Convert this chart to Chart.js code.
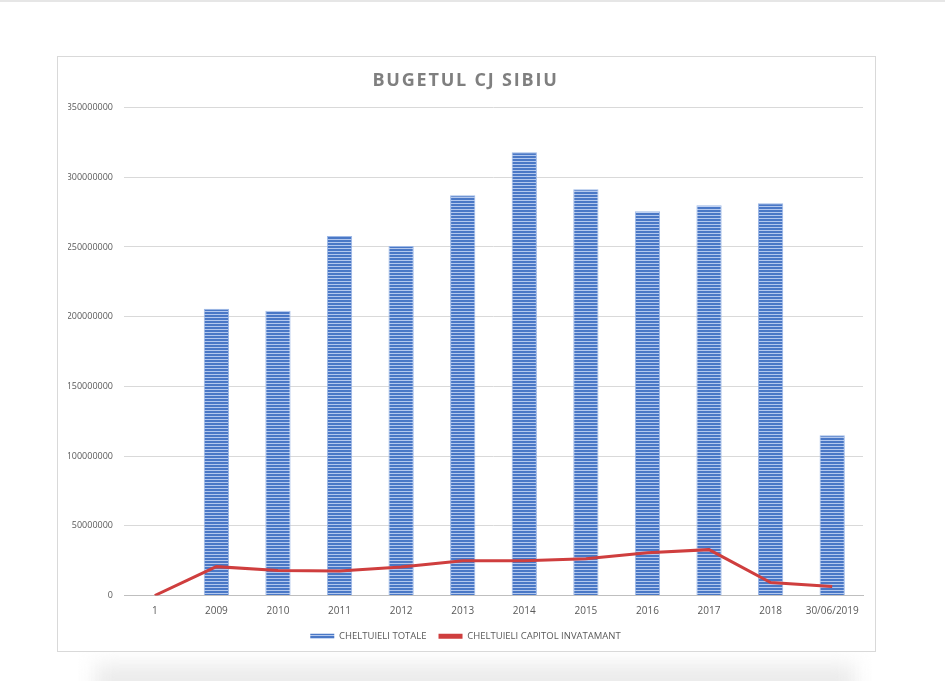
<!DOCTYPE html>
<html lang="ro">
<head>
    <meta charset="UTF-8">
    <title>Bugetul CJ Sibiu</title>
    <script src="https://cdn.jsdelivr.net/npm/chart.js"></script>
    <style>
        body { margin: 0; background: #fff; width: 945px; height: 681px; overflow: hidden; position: relative; }
        #topbar { position: absolute; left: 0; top: 0; width: 945px; height: 2px; background: #e6e6e6; }
        #shadow { position: absolute; left: 95px; top: 664px; width: 760px; height: 40px;
                  background: #ebebeb; filter: blur(10px); }
        #box { position: absolute; left: 57px; top: 56px; width: 817px; height: 594px;
               border: 1px solid #d9d9d9; background: #fff; }
    </style>
</head>
<body>
    <div id="topbar"></div>
    <div id="shadow"></div>
    <div id="box"><canvas id="chart"></canvas></div>

    <script>
        const categories = ['1', '2009', '2010', '2011', '2012', '2013', '2014', '2015', '2016', '2017', '2018', '30/06/2019'];
        const cheltuieliTotale = [0, 205700000, 204300000, 257900000, 250700000, 287100000, 317900000, 291400000, 275700000, 280000000, 281400000, 115000000];
        const cheltuieliInvatamant = [0, 20700000, 17900000, 17600000, 20400000, 25000000, 25000000, 26400000, 30700000, 32900000, 9300000, 6400000];

        // striped fill like the original bars
        function stripes() {
            const c = document.createElement('canvas');
            c.width = 4; c.height = 3;
            const g = c.getContext('2d');
            g.fillStyle = '#4a78c6';
            g.fillRect(0, 0, 4, 2);
            g.fillStyle = '#b3c8ee';
            g.fillRect(0, 2, 4, 1);
            return g.createPattern(c, 'repeat');
        }

        const ctx = document.getElementById('chart').getContext('2d');
        const barFill = stripes();

        const chart = new Chart(ctx, {
            data: {
                labels: categories,
                datasets: [
                    {
                        type: 'bar',
                        label: 'CHELTUIELI TOTALE',
                        data: cheltuieliTotale,
                        backgroundColor: barFill,
                        borderColor: '#9db8e6',
                        borderWidth: 1,
                        categoryPercentage: 0.82,
                        barPercentage: 0.5,
                        order: 2
                    },
                    {
                        type: 'line',
                        label: 'CHELTUIELI CAPITOL INVATAMANT',
                        data: cheltuieliInvatamant,
                        borderColor: '#cf3e3e',
                        backgroundColor: '#cf3e3e',
                        borderWidth: 3,
                        pointRadius: 0,
                        pointHoverRadius: 0,
                        tension: 0,
                        order: 1
                    }
                ]
            },
            options: {
                responsive: true,
                maintainAspectRatio: false,
                animation: false,
                layout: { autoPadding: false, padding: { left: 10, right: 12, top: 5, bottom: 0 } },
                plugins: {
                    title: {
                        display: true,
                        text: 'BUGETUL CJ SIBIU',
                        color: '#7f7f7f',
                        font: { family: 'Open Sans', size: 18, weight: 'bold' },
                        padding: { top: 8, bottom: 16 }
                    },
                    legend: {
                        position: 'bottom',
                        labels: {
                            boxWidth: 24,
                            boxHeight: 5,
                            padding: 12,
                            color: '#595959',
                            font: { family: 'Open Sans', size: 9.5 },
                            sort: (a, b) => a.datasetIndex - b.datasetIndex,
                            generateLabels: c => Chart.defaults.plugins.legend.labels.generateLabels(c)
                                .map(item => Object.assign(item, { lineWidth: 0 }))
                        }
                    },
                    tooltip: { enabled: false }
                },
                scales: {
                    x: {
                        grid: { display: false },
                        border: { color: '#bfbfbf', width: 1 },
                        ticks: { color: '#595959', font: { family: 'Open Sans', size: 10 }, padding: 2 }
                    },
                    y: {
                        min: 0,
                        max: 350000000,
                        grid: { color: '#d9d9d9', drawTicks: false },
                        border: { display: false },
                        afterFit: s => { s.width = 56; },
                        ticks: {
                            stepSize: 50000000,
                            color: '#595959',
                            padding: 11,
                            font: { family: 'Open Sans', size: 9 },
                            callback: v => String(v)
                        }
                    }
                }
            }
        });

        // spaced-out title letters, as in the original
        const drawTitle = chart.titleBlock.draw;
        chart.titleBlock.draw = function () {
            const c = this.ctx;
            c.save();
            c.letterSpacing = '1.8px';
            drawTitle.apply(this, arguments);
            c.restore();
        };
        chart.draw();
    </script>
</body>
</html>
